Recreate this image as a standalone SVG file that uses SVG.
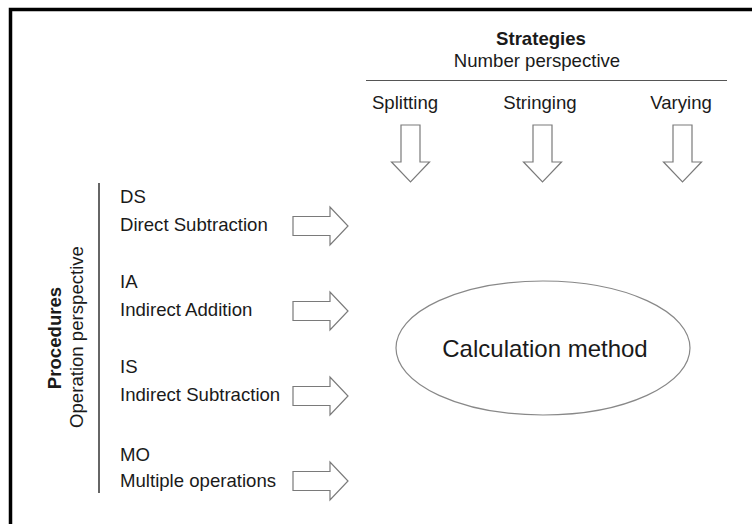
<svg xmlns="http://www.w3.org/2000/svg" width="752" height="524" viewBox="0 0 752 524">
<style>
  text { font-family: "Liberation Sans", Arial, sans-serif; font-size: 18.6px; fill: #1a1a1a; }
  .b { font-weight: bold; }
  .c { text-anchor: middle; }
  .arrow { fill: #ffffff; stroke: #7a7a7a; stroke-width: 1.2; }
  .line { stroke: #555; stroke-width: 1.2; fill: none; }
</style>
<defs>
  <polygon id="rarrow" points="0,-9.5 37,-9.5 37,-19 55,0 37,19 37,9.5 0,9.5"/>
  <polygon id="darrow" points="-9.5,0 9.5,0 9.5,37 19,37 0,57 -19,37 -9.5,37"/>
</defs>
<rect x="0" y="0" width="752" height="524" fill="#ffffff"/>
<path d="M10.5,524 V9.5 H752" fill="none" stroke="#000" stroke-width="3.5"/>

<g id="strategies">
  <text class="b c" x="541" y="45">Strategies</text>
  <text class="c" x="537" y="67">Number perspective</text>
  <line class="line" x1="366" y1="80.5" x2="727" y2="80.5"/>
</g>
<g id="splitting"><text class="c" x="405" y="109">Splitting</text></g>
<g id="stringing"><text class="c" x="540" y="109">Stringing</text></g>
<g id="varying"><text class="c" x="681" y="109">Varying</text></g>

<g id="procedures">
  <line x1="99" y1="183" x2="99" y2="493" stroke="#666" stroke-width="2"/>
  <text class="b c" transform="translate(61,338) rotate(-90)">Procedures</text>
  <text class="c" transform="translate(83,337) rotate(-90)">Operation perspective</text>
</g>

<g id="ds"><text x="120" y="203">DS</text><text x="120" y="231">Direct Subtraction</text></g>
<g id="ia"><text x="120" y="288">IA</text><text x="120" y="316">Indirect Addition</text></g>
<g id="is"><text x="120" y="373">IS</text><text x="120" y="401">Indirect Subtraction</text></g>
<g id="mo"><text x="120" y="461">MO</text><text x="120" y="487">Multiple operations</text></g>

<g id="calculation-method">
  <ellipse cx="543" cy="348" rx="147" ry="67" fill="#fff" stroke="#888" stroke-width="1.2"/>
  <text class="c" x="545" y="357" style="font-size:24px">Calculation method</text>
</g>

<g id="connectors">
  <use href="#darrow" class="arrow" transform="translate(410.5,125)"/>
  <use href="#darrow" class="arrow" transform="translate(542.5,125)"/>
  <use href="#darrow" class="arrow" transform="translate(682.5,125)"/>
  <use href="#rarrow" class="arrow" transform="translate(293,226)"/>
  <use href="#rarrow" class="arrow" transform="translate(293,311)"/>
  <use href="#rarrow" class="arrow" transform="translate(293,396)"/>
  <use href="#rarrow" class="arrow" transform="translate(293,481)"/>
</g>
</svg>
